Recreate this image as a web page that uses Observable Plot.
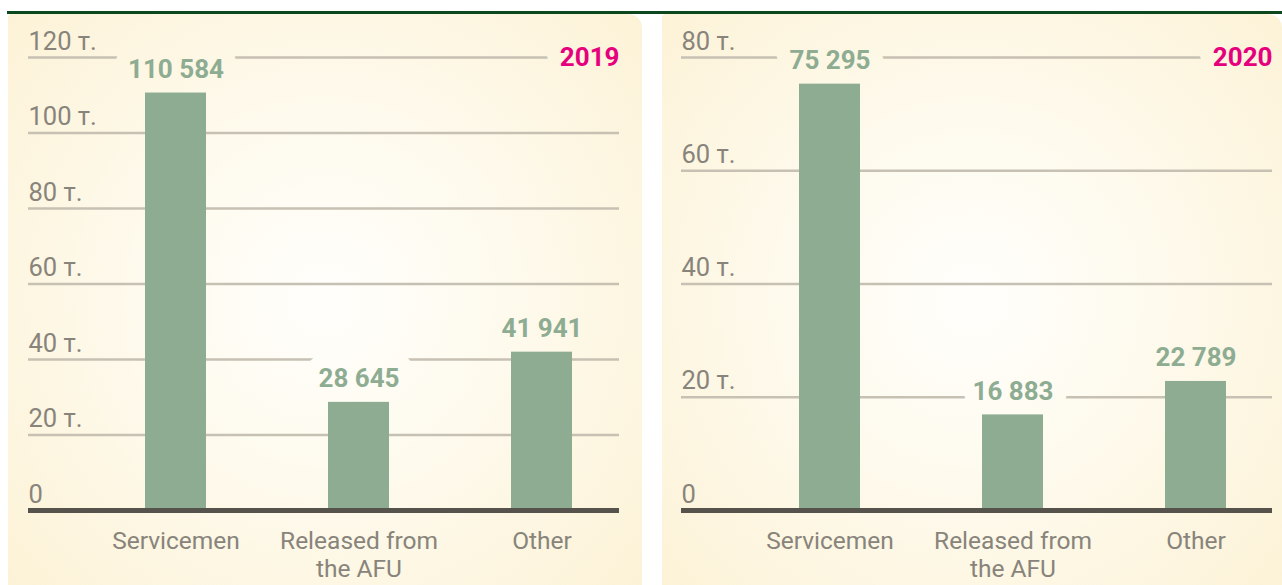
<!DOCTYPE html>
<html>
<head>
<meta charset="utf-8">
<script src="https://cdn.jsdelivr.net/npm/d3@7"></script>
<script src="https://cdn.jsdelivr.net/npm/@observablehq/plot@0.6"></script>
<style>
  html, body { margin: 0; padding: 0; background: #ffffff; }
  body { width: 1282px; height: 585px; position: relative; overflow: hidden; font-family: Roboto, sans-serif; }
  #topline { position: absolute; left: 7px; right: 0; top: 11px; height: 0; border-top: 3px solid #0c481e; }
  .panel { position: absolute; top: 14px; height: 575px; overflow: hidden; }
  #p1 { left: 8px; width: 634px; border-radius: 4px 14px 0 0; }
  #p2 { left: 662px; width: 620px; border-radius: 4px 14px 0 0; }
  .panel svg { display: block; }
</style>
</head>
<body>
<div id="topline"></div>
<div class="panel" id="p1"></div>
<div class="panel" id="p2"></div>
<script>
const categories = ["Servicemen", "Released from\nthe AFU", "Other"];
const years = ["2019", "2020"];
const values2019 = [110584, 28645, 41941];
const values2020 = [75295, 16883, 22789];
const ticks2019 = [0, 20000, 40000, 60000, 80000, 100000, 120000];
const tickLabels2019 = ["0", "20 т.", "40 т.", "60 т.", "80 т.", "100 т.", "120 т."];
const ticks2020 = [0, 20000, 40000, 60000, 80000];
const tickLabels2020 = ["0", "20 т.", "40 т.", "60 т.", "80 т."];

const barColor = "#8dac92";
const gridColor = "#c7c1b3";
const axisColor = "#56534c";
const labelColor = "#88847b";
const yearColor = "#e5007d";
const knock = "#fefcf1"; // sentinel colour, replaced by the panel gradient
const fmt = v => d3.format(",")(v).replace(/,/g, " ");

const gradStops = [[0, "#fffefb"], [0.35, "#fefbf0"], [1, "#fcf2d6"]];

function addGradient(defs, id, cx, cy) {
  const g = defs.append("radialGradient")
    .attr("id", id).attr("gradientUnits", "userSpaceOnUse")
    .attr("cx", cx).attr("cy", cy).attr("r", 430);
  for (const [o, c] of gradStops) g.append("stop").attr("offset", o).attr("stop-color", c);
}

function panel(id, gid, width, marginLeft, marginRight, values, ticks, tickLabels, year) {
  const chart = Plot.plot({
    width,
    height: 575,
    marginTop: 43,
    marginBottom: 79,
    marginLeft,
    marginRight,
    style: { fontFamily: "Roboto, sans-serif", background: "transparent", overflow: "visible" },
    x: { type: "band", domain: categories, range: [75, 625.5], paddingInner: 0.667, paddingOuter: 0.3335, axis: null },
    y: { domain: [0, d3.max(ticks)], axis: null },
    marks: [
      Plot.ruleY(ticks.filter(t => t > 0), { stroke: gridColor, strokeWidth: 2.5 }),
      Plot.text(ticks, {
        y: d => d, text: (d, i) => tickLabels[i], frameAnchor: "left", textAnchor: "start",
        lineAnchor: "bottom", dy: -8, fontSize: 25.5, fill: labelColor
      }),
      Plot.text([year], {
        y: d3.max(ticks), text: d => d, frameAnchor: "right", textAnchor: "end",
        lineAnchor: "middle", fontSize: 26, fontWeight: 700, fill: yearColor,
        stroke: knock, strokeWidth: 28, strokeLinejoin: "round"
      }),
      Plot.text(values, {
        x: (d, i) => categories[i], y: d => d, text: d => fmt(d),
        lineAnchor: "bottom", dy: -15, fontSize: 26, fontWeight: 700, fill: barColor,
        stroke: knock, strokeWidth: 28, strokeLinejoin: "round"
      }),
      Plot.barY(values, { x: (d, i) => categories[i], y: d => d, fill: barColor }),
      Plot.ruleY([0], { stroke: axisColor, strokeWidth: 5 }),
      Plot.text(categories, {
        x: d => d, text: d => d, frameAnchor: "bottom", lineAnchor: "top", dy: 18,
        fontSize: 24.5, lineHeight: 1.15, fill: labelColor
      })
    ]
  });
  document.getElementById(id).appendChild(chart);
  const svg = d3.select(chart);
  const defs = svg.insert("defs", ":first-child");
  const cx = width / 2, cy = 285;
  addGradient(defs, gid, cx, cy);
  svg.insert("rect", "defs + *")
    .attr("x", 0).attr("y", 0).attr("width", width).attr("height", 575)
    .attr("fill", `url(#${gid})`);
  // knockout strokes: one gradient per text, expressed in that text's own user space
  const rootCTM = chart.getCTM();
  let k = 0;
  svg.selectAll("g").filter(function () { return this.getAttribute("stroke") === knock; })
    .selectAll("text").each(function () {
      const m = this.getCTM();
      const tx = m.e - (rootCTM ? rootCTM.e : 0);
      const ty = m.f - (rootCTM ? rootCTM.f : 0);
      const gid2 = `${gid}_${k++}`;
      addGradient(defs, gid2, cx - tx, cy - ty);
      this.setAttribute("stroke", `url(#${gid2})`);
    });
}

panel("p1", "bg1", 634, 20, 23, values2019, ticks2019, tickLabels2019, years[0]);
panel("p2", "bg2", 620, 19, 10, values2020, ticks2020, tickLabels2020, years[1]);
</script>
</body>
</html>
